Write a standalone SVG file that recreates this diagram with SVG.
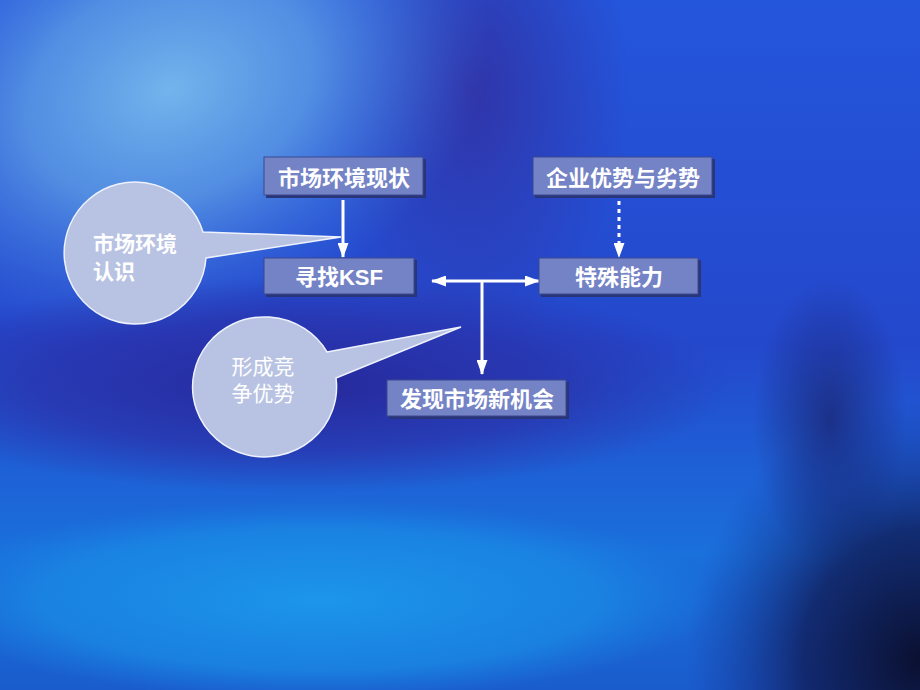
<svg xmlns="http://www.w3.org/2000/svg" width="920" height="690" viewBox="0 0 920 690">
<defs>
<radialGradient id="gTL" cx="170" cy="90" r="300" gradientUnits="userSpaceOnUse" gradientTransform="translate(170 90) rotate(-20) scale(1.1 0.8) translate(-170 -90)">
<stop offset="0" stop-color="#74b4ec"/><stop offset="0.45" stop-color="#5a98e4" stop-opacity="0.85"/><stop offset="1" stop-color="#3a70e0" stop-opacity="0"/>
</radialGradient>
<radialGradient id="gDark" cx="300" cy="385" r="270" gradientUnits="userSpaceOnUse" gradientTransform="translate(300 385) scale(1.6 0.4) translate(-300 -385)">
<stop offset="0" stop-color="#26289a"/><stop offset="0.6" stop-color="#2a30a8" stop-opacity="0.7"/><stop offset="1" stop-color="#2a30a8" stop-opacity="0"/>
</radialGradient>
<radialGradient id="gTopDark" cx="470" cy="90" r="200" gradientUnits="userSpaceOnUse" gradientTransform="translate(470 90) scale(0.8 1.3) translate(-470 -90)">
<stop offset="0" stop-color="#3034a8"/><stop offset="1" stop-color="#3034a8" stop-opacity="0"/>
</radialGradient>
<radialGradient id="gBot" cx="320" cy="600" r="400" gradientUnits="userSpaceOnUse" gradientTransform="translate(320 600) scale(1 0.25) translate(-320 -600)">
<stop offset="0" stop-color="#1c96ea"/><stop offset="0.7" stop-color="#1a88e4" stop-opacity="0.8"/><stop offset="1" stop-color="#1a80e0" stop-opacity="0"/>
</radialGradient>
<radialGradient id="gBR" cx="920" cy="660" r="260" gradientUnits="userSpaceOnUse" gradientTransform="translate(920 660) scale(0.9 1) translate(-920 -660)">
<stop offset="0" stop-color="#0a1030"/><stop offset="0.5" stop-color="#101c58" stop-opacity="0.8"/><stop offset="1" stop-color="#16309a" stop-opacity="0"/>
</radialGradient>
<radialGradient id="gPag" cx="830" cy="420" r="110" gradientUnits="userSpaceOnUse" gradientTransform="translate(830 420) scale(0.7 1.3) translate(-830 -420)">
<stop offset="0" stop-color="#1a2470" stop-opacity="0.75"/><stop offset="1" stop-color="#1a2470" stop-opacity="0"/>
</radialGradient>
<linearGradient id="gBase" x1="0" y1="0" x2="0" y2="1">
<stop offset="0" stop-color="#2456dc"/><stop offset="0.5" stop-color="#2448cc"/><stop offset="0.8" stop-color="#1a70dc"/><stop offset="1" stop-color="#1a5ccc"/>
</linearGradient>
<marker id="ah" markerWidth="15" markerHeight="11" refX="14" refY="5.5" orient="auto" markerUnits="userSpaceOnUse" viewBox="0 0 15 11">
<path d="M0,0 L15,5.5 L0,11 Z" fill="#ffffff"/>
</marker>
<marker id="ahs" markerWidth="15" markerHeight="11" refX="1" refY="5.5" orient="auto" markerUnits="userSpaceOnUse" viewBox="0 0 15 11">
<path d="M15,0 L0,5.5 L15,11 Z" fill="#ffffff"/>
</marker>
</defs>
<style>
.box{fill:#7482c6;stroke:#3a4890;stroke-width:1}
.sh{fill:#2a3478}
.bt{fill:#ffffff;font-family:"Liberation Sans","Noto Sans CJK SC",sans-serif;font-weight:bold;font-size:22px;text-anchor:middle}
.bub{fill:#b8c2e2;stroke:#eef2ff;stroke-width:1.5}
.bubt{fill:#ffffff;font-family:"Liberation Sans","Noto Sans CJK SC",sans-serif;font-size:21px}
.ln{stroke:#ffffff;stroke-width:3;fill:none}
</style>
<rect width="920" height="690" fill="url(#gBase)"/>
<rect width="920" height="690" fill="url(#gTopDark)"/>
<rect width="920" height="690" fill="url(#gTL)"/>
<rect width="920" height="690" fill="url(#gDark)"/>
<rect width="920" height="690" fill="url(#gBot)"/>
<rect width="920" height="690" fill="url(#gPag)"/>
<rect width="920" height="690" fill="url(#gBR)"/>

<g id="bubble1">
<path class="bub" d="M203,232 L341,237 L206,258 A71,71 0 1 1 203,232 Z"/>
<text class="bubt" x="93" y="251" font-weight="bold">市场环境</text>
<text class="bubt" x="93" y="279" font-weight="bold">认识</text>
</g>
<g id="bubble2">
<path class="bub" d="M327,352 L461,327 L336,378 A72,70 0 1 1 327,352 Z"/>
<text class="bubt" x="263" y="374" text-anchor="middle">形成竞</text>
<text class="bubt" x="263" y="401" text-anchor="middle">争优势</text>
</g>

<g id="connectors">
<line class="ln" x1="343" y1="200" x2="343" y2="257" marker-end="url(#ah)"/>
<line class="ln" x1="619" y1="201" x2="619" y2="257" stroke-dasharray="4,4" marker-end="url(#ah)"/>
<line class="ln" x1="432" y1="281" x2="539" y2="281" marker-start="url(#ahs)" marker-end="url(#ah)"/>
<line class="ln" x1="482" y1="281" x2="482" y2="374" marker-end="url(#ah)"/>
</g>

<g id="n1">
<rect class="sh" x="266" y="159" width="160" height="39"/>
<rect class="box" x="264" y="157" width="159" height="38"/>
<text class="bt" x="344" y="186">市场环境现状</text>
</g>
<g id="n2">
<rect class="sh" x="535" y="159" width="180" height="39"/>
<rect class="box" x="533" y="157" width="179" height="38"/>
<text class="bt" x="623" y="186">企业优势与劣势</text>
</g>
<g id="n3">
<rect class="sh" x="266" y="260" width="151" height="37"/>
<rect class="box" x="264" y="258" width="150" height="36"/>
<text class="bt" x="339" y="285">寻找KSF</text>
</g>
<g id="n4">
<rect class="sh" x="541" y="260" width="160" height="37"/>
<rect class="box" x="539" y="258" width="159" height="36"/>
<text class="bt" x="619" y="285">特殊能力</text>
</g>
<g id="n5">
<rect class="sh" x="389" y="382" width="180" height="37"/>
<rect class="box" x="387" y="380" width="179" height="36"/>
<text class="bt" x="477" y="407">发现市场新机会</text>
</g>
</svg>
